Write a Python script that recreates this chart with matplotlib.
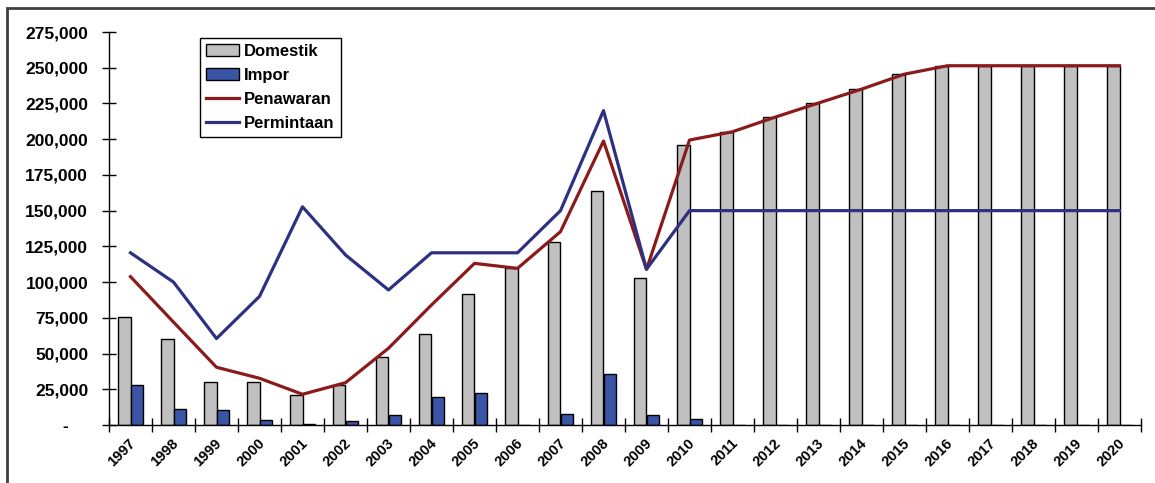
import numpy as np
import matplotlib
matplotlib.use('Agg')
from matplotlib import pyplot as plt
from matplotlib import patches, transforms
from matplotlib.ticker import FuncFormatter

years = list(range(1997, 2021))

# produksi domestik
domestik = [75700, 60400, 29900, 29900, 21000, 27800, 47400, 63500, 91400, 109600,
            128000, 163700, 102600, 195700, 205200, 215500, 225300, 235000, 245500,
            251400, 251400, 251400, 251400, 251400]
# impor
impor = [28200, 11400, 10700, 3300, 1000, 2600, 7200, 19600, 22400, 0,
         7900, 35700, 7200, 4200, 0, 0, 0, 0, 0,
         0, 0, 0, 0, 0]
# penawaran
penawaran = [103800, 72000, 40400, 32700, 21500, 29600, 53700, 84000, 113100, 109600,
             135300, 198700, 108900, 199400, 205200, 215500, 225300, 235000, 245500,
             251400, 251400, 251400, 251400, 251400]
# permintaan
permintaan = [120500, 100000, 60500, 90000, 152700, 119000, 94500, 120500, 120500, 120500,
              150000, 220000, 109000, 150000, 150000, 150000, 150000, 150000, 150000,
              150000, 150000, 150000, 150000, 150000]

plt.rcParams['font.family'] = ['Liberation Sans', 'DejaVu Sans']
plt.rcParams['font.weight'] = 'bold'

fig = plt.figure(figsize=(11.55, 4.83), dpi=100)
ax = fig.add_axes([109/1155, 58/483, 1032/1155, 393/483])

x = np.arange(len(years))
w = 0.3
b1 = ax.bar(x - w/2, domestik, w, color='#C0C0C0', edgecolor='black', linewidth=1, label='Domestik', zorder=2)
b2 = ax.bar(x + w/2, impor, w, color='#3A55A5', edgecolor='black', linewidth=1, label='Impor', zorder=2)
l1, = ax.plot(x, penawaran, color='#8B1A1A', lw=2.3, label='Penawaran', zorder=3)
l2, = ax.plot(x, permintaan, color='#2E3181', lw=2.3, label='Permintaan', zorder=3)

ax.set_xlim(-0.5, len(years) - 0.5)
ax.set_ylim(0, 275000)

for s in ['top', 'right']:
    ax.spines[s].set_visible(False)
ax.spines['left'].set_linewidth(1)
ax.spines['bottom'].set_linewidth(1)

# y axis
ax.set_yticks(np.arange(0, 275001, 25000))
ax.yaxis.set_major_formatter(FuncFormatter(lambda v, p: '-' if v == 0 else '{:,.0f}'.format(v)))
ax.tick_params(axis='y', direction='inout', length=10, width=1, pad=10, labelsize=12.5)
for lab in ax.get_yticklabels():
    lab.set_fontweight('bold')
zero_lab = ax.get_yticklabels()[0]
zero_lab.set_transform(zero_lab.get_transform() + transforms.ScaledTranslation(-0.2, 0, fig.dpi_scale_trans))

# x axis: ticks on boundaries, labels on centres
ax.set_xticks(np.arange(-0.5, len(years), 1))
ax.set_xticklabels([])
ax.tick_params(axis='x', which='major', direction='inout', length=10, width=1)
ax.set_xticks(x, minor=True)
ax.set_xticklabels([str(y) for y in years], minor=True, rotation=45, ha='right', fontsize=10.5, fontweight='bold')
ax.tick_params(axis='x', which='minor', length=0, pad=8)
for lab in ax.get_xticklabels(minor=True):
    lab.set_transform(lab.get_transform() + transforms.ScaledTranslation(0.08, 0, fig.dpi_scale_trans))

leg = ax.legend([b1, b2, l1, l2], ['Domestik', 'Impor', 'Penawaran', 'Permintaan'],
                loc='upper left', bbox_to_anchor=(200/1155, 1 - 38/483), bbox_transform=fig.transFigure,
                borderaxespad=0, fancybox=False, framealpha=1, edgecolor='black', fontsize=12,
                handlelength=2.0, handletextpad=0.3, borderpad=0.35, labelspacing=0.55)
leg.get_frame().set_linewidth(1)
for t in leg.get_texts():
    t.set_fontweight('bold')

# outer chart border
fig.patches.append(patches.Rectangle((7/1155, -0.1), 1.2, 1.1 - 8/483, transform=fig.transFigure,
                                     fill=False, edgecolor='#404040', linewidth=2, clip_on=False))

fig.savefig('out.png', dpi=100)
